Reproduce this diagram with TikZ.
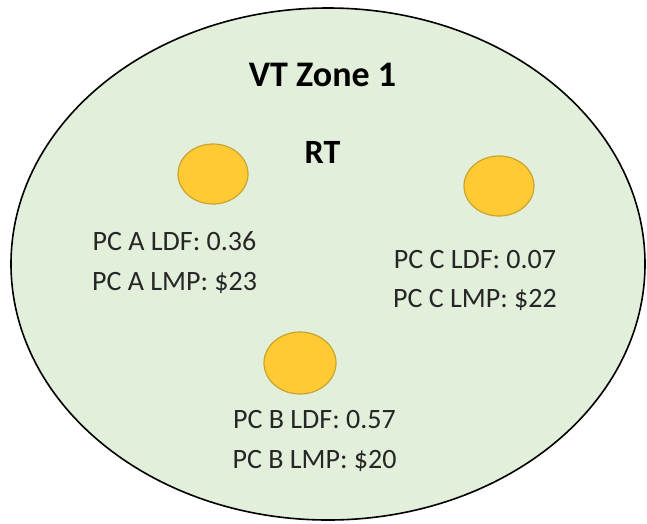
\documentclass[tikz,border=0pt]{standalone}
\usepackage{fontspec}
\setmainfont{Carlito}
\usetikzlibrary{shapes.geometric}
\definecolor{zonefill}{HTML}{E2EFDA}
\definecolor{pcfill}{HTML}{FFCA33}
\definecolor{pcdraw}{HTML}{C9A52E}
\definecolor{txt}{HTML}{262626}
\begin{document}
\begin{tikzpicture}[x=1pt,y=-1pt,
  zone/.style={fill=zonefill,draw=black,line width=1.6pt},
  pc/.style={ellipse,fill=pcfill,draw=pcdraw,line width=1.2pt,minimum width=70pt,minimum height=60pt,inner sep=0pt},
  title/.style={font=\fontsize{36}{40}\selectfont\bfseries,text=black,anchor=base,inner sep=0pt},
  sub/.style={font=\fontsize{34}{38}\selectfont\bfseries,text=black,anchor=base,inner sep=0pt},
  lbl/.style={font=\fontsize{28}{32}\selectfont,text=txt,anchor=base,inner sep=0pt}]
\useasboundingbox (0,0) rectangle (647,523);
\node[zone,ellipse,minimum width=634pt,minimum height=512pt,inner sep=0pt] (zone) at (328,264) {};
\node[title] (title) at (322.5,86) {VT Zone 1};
\node[sub] (rt) at (322.5,163) {RT};
\node[pc] (pca) at (213,174) {};
\node[pc] (pcc) at (499,186) {};
\node[pc,minimum width=72pt,minimum height=62pt] (pcb) at (300,363) {};
\node[lbl] (a1) at (174.5,250) {PC A LDF: 0.36};
\node[lbl] (a2) at (174.5,290) {PC A LMP: \$23};
\node[lbl] (c1) at (475,268) {PC C LDF: 0.07};
\node[lbl] (c2) at (475,307) {PC C LMP: \$22};
\node[lbl] (b1) at (314.5,428) {PC B LDF: 0.57};
\node[lbl] (b2) at (314.5,468) {PC B LMP: \$20};
\end{tikzpicture}
\end{document}
